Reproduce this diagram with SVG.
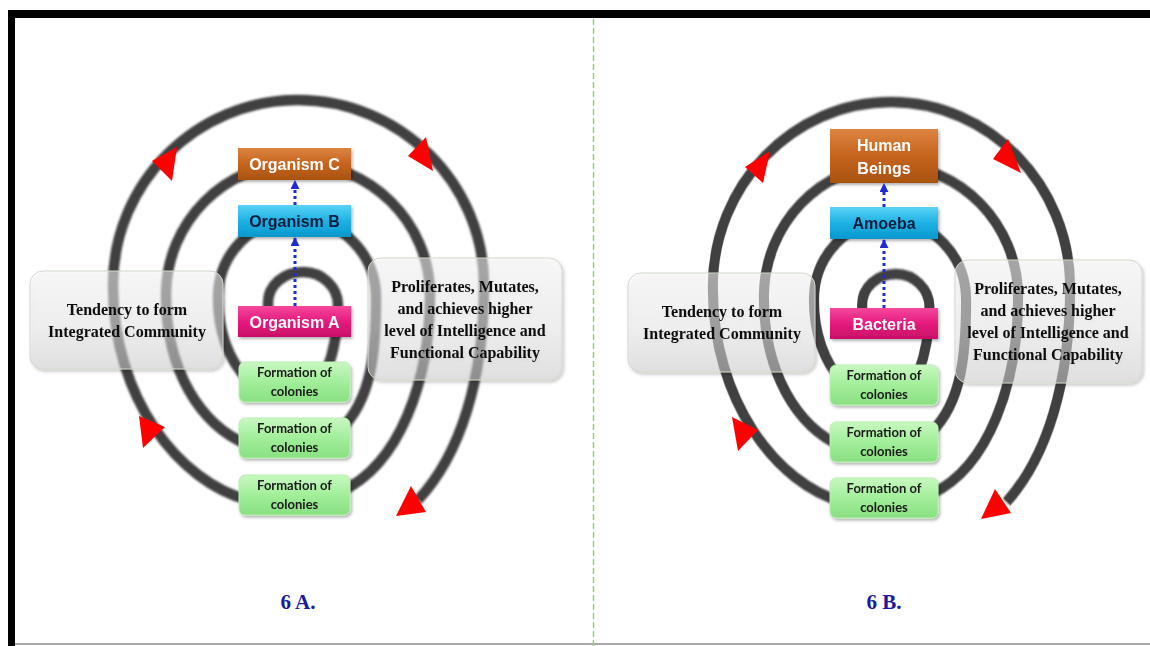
<svg xmlns="http://www.w3.org/2000/svg" width="1150" height="646" viewBox="0 0 1150 646">
<defs>
  <linearGradient id="gOrange" x1="0" y1="0" x2="0" y2="1"><stop offset="0" stop-color="#dc8540"/><stop offset="0.5" stop-color="#c6641e"/><stop offset="1" stop-color="#a8520f"/></linearGradient>
  <linearGradient id="gBlue" x1="0" y1="0" x2="0" y2="1"><stop offset="0" stop-color="#5ad2f5"/><stop offset="0.5" stop-color="#1cb2e4"/><stop offset="1" stop-color="#0a97cd"/></linearGradient>
  <linearGradient id="gPink" x1="0" y1="0" x2="0" y2="1"><stop offset="0" stop-color="#f5489d"/><stop offset="0.5" stop-color="#e51b7d"/><stop offset="1" stop-color="#c90f67"/></linearGradient>
  <linearGradient id="gGreen" x1="0" y1="0" x2="0" y2="1"><stop offset="0" stop-color="#c8f8c1"/><stop offset="0.5" stop-color="#a2ee9a"/><stop offset="1" stop-color="#88e080"/></linearGradient>
  <linearGradient id="gGray" x1="0" y1="0" x2="0" y2="1"><stop offset="0" stop-color="#ffffff"/><stop offset="0.6" stop-color="#eeeeee"/><stop offset="1" stop-color="#d4d4d4"/></linearGradient>
  <filter id="shadow" x="-20%" y="-30%" width="140%" height="170%"><feDropShadow dx="1.5" dy="2" stdDeviation="1.5" flood-color="#000" flood-opacity="0.3"/></filter>
  <filter id="soft" x="-5%" y="-5%" width="110%" height="110%"><feGaussianBlur stdDeviation="0.8"/></filter>
  <marker id="blueHead" viewBox="0 0 10 10" refX="9" refY="5" markerWidth="9" markerHeight="9" markerUnits="userSpaceOnUse" orient="auto"><path d="M0,0 L10,5 L0,10 z" fill="#1f2bd6"/></marker>
  <style>
    .ring { fill:none; stroke:#3f3f3f; stroke-width:10.5; }
    .red { fill:#ff0000; }
    .tb { fill:url(#gGray); fill-opacity:0.5; stroke:#cfd9ca; stroke-width:1; }
    .tbt { font-family:"Liberation Serif","Times New Roman",serif; font-weight:bold; font-size:16px; fill:#111111; text-anchor:middle; }
    .org { font-family:"Liberation Sans",Arial,sans-serif; font-weight:bold; font-size:16px; text-anchor:middle; }
    .col { font-family:Lato,"Liberation Sans",sans-serif; font-weight:bold; font-size:13px; fill:#1a1a1a; text-anchor:middle; }
    .lbl { font-family:"Liberation Serif","Times New Roman",serif; font-weight:bold; font-size:21px; fill:#1a1a9e; text-anchor:middle; }
    .dot { fill:none; stroke:#1f2bd6; stroke-width:3; stroke-dasharray:3 3; marker-end:url(#blueHead); }
    .cbox { fill:url(#gGreen); stroke:#b9efb2; stroke-width:1; }
  </style>
</defs>

<!-- frame -->
<rect x="0" y="0" width="1150" height="646" fill="#ffffff"/>
<rect x="8" y="10" width="1142" height="8" fill="#000000"/>
<rect x="8" y="10" width="7" height="636" fill="#000000"/>
<line x1="15" y1="644" x2="1150" y2="644" stroke="#a8a8a8" stroke-width="2"/>
<line x1="593.5" y1="19" x2="593.5" y2="646" stroke="#8fd46c" stroke-width="1.5" stroke-dasharray="6 3"/>

<!-- connectors -->
<g id="connectors">
  <g id="spiral-6A" filter="url(#soft)">
    <path class="ring" d="M 272 326 C 268 316, 268 309, 268 303 C 268 285, 284 272, 303 272 C 322 272, 338 287, 338 305 C 338 330, 334 352, 326 372"/>
    <path class="ring" d="M 248 380 C 228 360, 218 330, 218 298 C 218 254, 253 218, 297 218 C 341 218, 376 254, 376 298 C 376 350, 372 400, 340 430"/>
    <path class="ring" d="M 248 445 C 200 425, 166 370, 166 295 C 166 222, 225 163, 297 163 C 370 163, 430 222, 430 295 C 430 380, 400 465, 340 492"/>
    <path class="ring" d="M 248 500 C 180 482, 113 400, 113 285 C 113 183, 196 100, 298 100 C 400 100, 484 183, 484 285 C 484 380, 460 455, 418 500"/>
  </g>
  <g id="spiral-6B" filter="url(#soft)" transform="matrix(0.963 0 0 1 604 2)">
    <path class="ring" d="M 272 326 C 268 316, 268 309, 268 303 C 268 285, 284 272, 303 272 C 322 272, 338 287, 338 305 C 338 330, 334 352, 326 372"/>
    <path class="ring" d="M 248 380 C 228 360, 218 330, 218 298 C 218 254, 253 218, 297 218 C 341 218, 376 254, 376 298 C 376 350, 372 400, 340 430"/>
    <path class="ring" d="M 248 445 C 200 425, 166 370, 166 295 C 166 222, 225 163, 297 163 C 370 163, 430 222, 430 295 C 430 380, 400 465, 340 492"/>
    <path class="ring" d="M 248 500 C 180 482, 113 400, 113 285 C 113 183, 196 100, 298 100 C 400 100, 484 183, 484 285 C 484 380, 460 455, 418 500"/>
  </g>
  <g id="arrowheads">
    <polygon class="red" points="177,147 152,161 172,181"/>
    <polygon class="red" points="433,171 408,156 426,137"/>
    <polygon class="red" points="139,416 165,427 143,448"/>
    <polygon class="red" points="396,516 411,486 426,512"/>
    <polygon class="red" points="770,151 745,167 763,183"/>
    <polygon class="red" points="1021,173 993,159 1008,139"/>
    <polygon class="red" points="732,417 758,430 738,451"/>
    <polygon class="red" points="981,519 995,489 1011,513"/>
  </g>
</g>

<!-- 6A text boxes -->
<g id="a-tendency" filter="url(#shadow)">
  <rect class="tb" x="30" y="271" width="193" height="98" rx="13"/>
  <text class="tbt" x="127" y="315">Tendency to form</text>
  <text class="tbt" x="127" y="337">Integrated Community</text>
</g>
<g id="a-proliferates" filter="url(#shadow)">
  <rect class="tb" x="368" y="258" width="194" height="122" rx="13"/>
  <text class="tbt" x="465" y="292">Proliferates, Mutates,</text>
  <text class="tbt" x="465" y="314">and achieves higher</text>
  <text class="tbt" x="465" y="336">level of Intelligence and</text>
  <text class="tbt" x="465" y="358">Functional Capability</text>
</g>

<!-- 6A nodes -->
<g id="a-organism-c" filter="url(#shadow)">
  <rect x="238" y="148" width="113" height="32" fill="url(#gOrange)"/>
  <text class="org" x="294.5" y="170" fill="#ffffff">Organism C</text>
</g>
<g id="a-organism-b" filter="url(#shadow)">
  <rect x="238" y="205" width="113" height="32" fill="url(#gBlue)"/>
  <text class="org" x="294.5" y="227" fill="#0b1a3a">Organism B</text>
</g>
<g id="a-organism-a" filter="url(#shadow)">
  <rect x="238" y="306" width="113" height="31" fill="url(#gPink)"/>
  <text class="org" x="294.5" y="328" fill="#ffffff">Organism A</text>
</g>
<g id="a-colony-1" filter="url(#shadow)">
  <rect class="cbox" x="239" y="362" width="111" height="40" rx="6"/>
  <text class="col" x="294.5" y="377">Formation of</text>
  <text class="col" x="294.5" y="396">colonies</text>
</g>
<g id="a-colony-2" filter="url(#shadow)">
  <rect class="cbox" x="239" y="418" width="111" height="40" rx="6"/>
  <text class="col" x="294.5" y="433">Formation of</text>
  <text class="col" x="294.5" y="452">colonies</text>
</g>
<g id="a-colony-3" filter="url(#shadow)">
  <rect class="cbox" x="239" y="475" width="111" height="40" rx="6"/>
  <text class="col" x="294.5" y="490">Formation of</text>
  <text class="col" x="294.5" y="509">colonies</text>
</g>

<!-- 6B text boxes -->
<g id="b-tendency" filter="url(#shadow)">
  <rect class="tb" x="628" y="273" width="187" height="99" rx="13"/>
  <text class="tbt" x="722" y="317">Tendency to form</text>
  <text class="tbt" x="722" y="339">Integrated Community</text>
</g>
<g id="b-proliferates" filter="url(#shadow)">
  <rect class="tb" x="955" y="260" width="187" height="123" rx="13"/>
  <text class="tbt" x="1048" y="294">Proliferates, Mutates,</text>
  <text class="tbt" x="1048" y="316">and achieves higher</text>
  <text class="tbt" x="1048" y="338">level of Intelligence and</text>
  <text class="tbt" x="1048" y="360">Functional Capability</text>
</g>

<!-- 6B nodes -->
<g id="b-human-beings" filter="url(#shadow)">
  <rect x="830" y="129" width="108" height="54" fill="url(#gOrange)"/>
  <text class="org" x="884" y="151" fill="#ffffff">Human</text>
  <text class="org" x="884" y="174" fill="#ffffff">Beings</text>
</g>
<g id="b-amoeba" filter="url(#shadow)">
  <rect x="830" y="207" width="108" height="32" fill="url(#gBlue)"/>
  <text class="org" x="884" y="229" fill="#0b1a3a">Amoeba</text>
</g>
<g id="b-bacteria" filter="url(#shadow)">
  <rect x="830" y="308" width="108" height="31" fill="url(#gPink)"/>
  <text class="org" x="884" y="330" fill="#ffffff">Bacteria</text>
</g>
<g id="b-colony-1" filter="url(#shadow)">
  <rect class="cbox" x="830" y="365" width="108" height="40" rx="6"/>
  <text class="col" x="884" y="380">Formation of</text>
  <text class="col" x="884" y="399">colonies</text>
</g>
<g id="b-colony-2" filter="url(#shadow)">
  <rect class="cbox" x="830" y="422" width="108" height="40" rx="6"/>
  <text class="col" x="884" y="437">Formation of</text>
  <text class="col" x="884" y="456">colonies</text>
</g>
<g id="b-colony-3" filter="url(#shadow)">
  <rect class="cbox" x="830" y="478" width="108" height="40" rx="6"/>
  <text class="col" x="884" y="493">Formation of</text>
  <text class="col" x="884" y="512">colonies</text>
</g>

<!-- blue dotted arrows -->
<g id="evolution-arrows">
  <line class="dot" x1="295" y1="306" x2="295" y2="238"/>
  <line class="dot" x1="295" y1="205" x2="295" y2="181"/>
  <line class="dot" x1="884" y1="308" x2="884" y2="240"/>
  <line class="dot" x1="884" y1="207" x2="884" y2="184"/>
</g>

<!-- figure labels -->
<g id="label-6A"><text class="lbl" x="298" y="609">6 A.</text></g>
<g id="label-6B"><text class="lbl" x="884" y="609">6 B.</text></g>
</svg>
